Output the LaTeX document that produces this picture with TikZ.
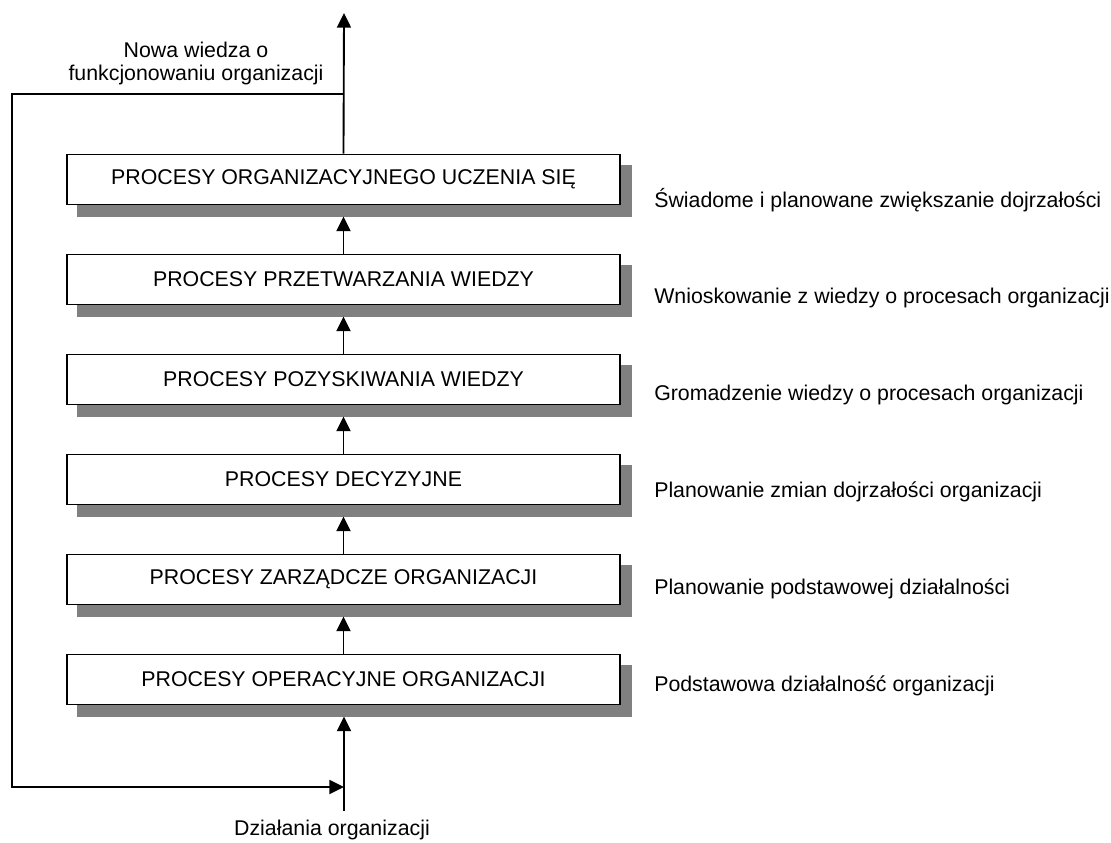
\documentclass[tikz,border=0pt]{standalone}
\usepackage{fontspec}
\setmainfont{Liberation Sans}
\usetikzlibrary{arrows.meta}
\definecolor{shadowgray}{RGB}{128,128,128}
\begin{document}
\begin{tikzpicture}[x=0.75pt,y=-0.75pt,
  procbox/.style={draw, line width=1.4pt, fill=white, minimum width=415pt,
    minimum height=37.5pt, inner sep=0pt, font=\fontsize{16}{19}\selectfont},
  boxshadow/.style={fill=shadowgray, minimum width=416.5pt, minimum height=39pt,
    inner sep=0pt, outer sep=0pt},
  flow/.style={line width=1.4pt, -{Triangle[length=11pt,width=10.5pt]}},
  note/.style={font=\fontsize{16}{17}\selectfont, inner sep=0pt},
]
\useasboundingbox (0,0) rectangle (1111,843);

% process levels, bottom-up: shadow, box, description
\foreach \i/\t/\d in {
  1/PROCESY ORGANIZACYJNEGO UCZENIA SIĘ/Świadome i planowane zwiększanie dojrzałości,
  2/PROCESY PRZETWARZANIA WIEDZY/Wnioskowanie z wiedzy o procesach organizacji,
  3/PROCESY POZYSKIWANIA WIEDZY/Gromadzenie wiedzy o procesach organizacji,
  4/PROCESY DECYZYJNE/Planowanie zmian dojrzałości organizacji,
  5/PROCESY ZARZĄDCZE ORGANIZACJI/Planowanie podstawowej działalności,
  6/PROCESY OPERACYJNE ORGANIZACJI/Podstawowa działalność organizacji} {
  \node[boxshadow] (s\i) at (354.5, 79.5+100*\i+11) {};
  \node[procbox] (b\i) at (343.5, 79.5+100*\i) {\t};
  \node[note, anchor=base west] (d\i) at (654, 110.2+96.8*\i) {\d};
}

% upward flow between levels
\foreach \i [evaluate=\i as \j using int(\i-1)] in {2,...,6}
  \draw[flow] (b\i.north) -- (b\i.north |- s\j.south);

% output at the top and feedback loop
\coordinate (top) at (344,13);
\coordinate (j) at (344,94);
\coordinate (lt) at (12,94);
\coordinate (lb) at (12,787);
\coordinate (m) at (344,787);
\coordinate (src) at (344,811);
\draw[flow] (b1.north) -- (top);
\draw[flow] (j) -- (lt) -- (lb) -- (m);
\draw[flow] (src) -- (src |- s6.south);

\node[note, align=center] (newk) at (196,63.5) {Nowa wiedza o\\funkcjonowaniu organizacji};
\node[note, anchor=base] (act) at (332,835) {Działania organizacji};
\end{tikzpicture}
\end{document}
